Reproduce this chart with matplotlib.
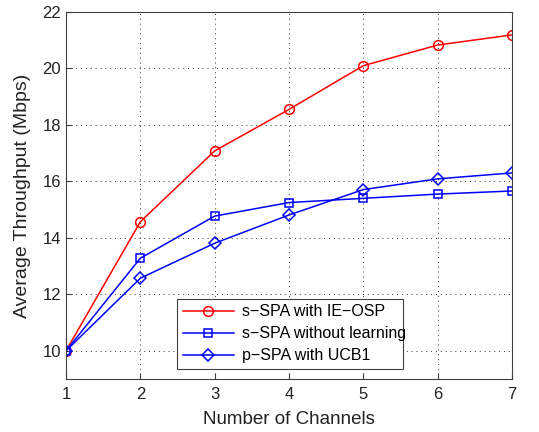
import matplotlib
matplotlib.use("Agg")
import matplotlib.pyplot as plt

plt.rcParams['font.family'] = ['Liberation Sans', 'DejaVu Sans']

channels = [1, 2, 3, 4, 5, 6, 7]
ie_osp = [10.0, 14.57, 17.08, 18.55, 20.10, 20.83, 21.19]
no_learning = [10.0, 13.28, 14.77, 15.25, 15.40, 15.55, 15.66]
ucb1 = [10.0, 12.57, 13.81, 14.81, 15.71, 16.09, 16.30]
y_ticks = [10, 12, 14, 16, 18, 20, 22]

fig = plt.figure(figsize=(5.39, 4.32), dpi=100)
ax = fig.add_axes([0.1225, 0.1227, 0.8275, 0.8495])

ax.plot(channels, ie_osp, color='red', marker='o', markersize=7,
        markerfacecolor='none', markeredgewidth=1.1, linewidth=1.1,
        label='s\u2212SPA with IE\u2212OSP')
ax.plot(channels, no_learning, color='blue', marker='s', markersize=6,
        markerfacecolor='none', markeredgewidth=1.1, linewidth=1.1,
        label='s\u2212SPA without learning')
ax.plot(channels, ucb1, color='blue', marker='D', markersize=6,
        markerfacecolor='none', markeredgewidth=1.1, linewidth=1.1,
        label='p\u2212SPA with UCB1')

ax.set_xlim(1, 7)
ax.set_ylim(9, 22)
ax.set_xticks(channels)
ax.set_yticks(y_ticks)
ax.tick_params(labelsize=12, direction='in', length=4, color='#404040',
               labelcolor='#222222')
ax.tick_params(axis='x', pad=6)
ax.grid(True, linestyle=(0, (1, 4)), color='#303030', linewidth=0.7)
for s in ax.spines.values():
    s.set_color('#404040')
    s.set_linewidth(0.8)

ax.set_xlabel('Number of Channels', fontsize=13.5, labelpad=6, color='#222222')
ax.set_ylabel('Average Throughput (Mbps)', fontsize=14, labelpad=8,
              color='#222222')

leg = ax.legend(loc='lower left', bbox_to_anchor=(0.249, 0.027, 0.507, 0.191),
                mode='expand', fontsize=11.5, fancybox=False, framealpha=1,
                edgecolor='#404040', handlelength=3.2, borderaxespad=0,
                labelspacing=0.45, handletextpad=0.5, borderpad=0.35)
leg.get_frame().set_linewidth(0.8)

fig.savefig('out.png', dpi=100)
